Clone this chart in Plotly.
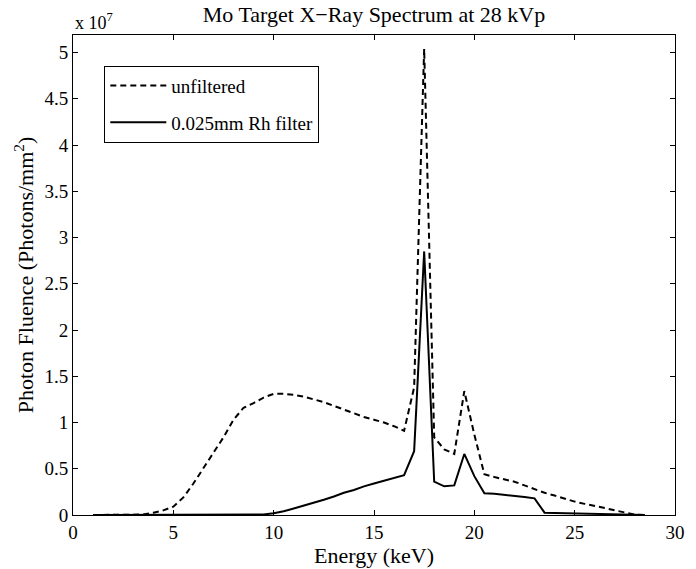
import plotly.graph_objects as go

energy_kev = [1, 1.5, 2, 2.5, 3, 3.5, 4, 4.5, 5, 5.5, 6, 6.5, 7, 7.5, 8, 8.5, 9, 9.5,
              10, 10.5, 11, 11.5, 12, 12.5, 13, 13.5, 14, 14.5, 15, 15.5, 16, 16.5,
              17, 17.5, 18, 18.5, 19, 19.5, 20, 20.5, 21, 21.5, 22, 22.5, 23, 23.5,
              24, 24.5, 25, 25.5, 26, 26.5, 27, 27.5, 28, 28.5]

# values in units of 1e7 photons/mm^2
unfiltered_e7 = [0, 0, 0, 0, 0, 0.005, 0.025, 0.05, 0.09, 0.19, 0.34, 0.51, 0.68, 0.84,
                 1.03, 1.16, 1.21, 1.27, 1.31, 1.31, 1.30, 1.28, 1.25, 1.22, 1.18, 1.14,
                 1.10, 1.06, 1.03, 1.00, 0.96, 0.91, 1.38, 5.04, 0.84, 0.71, 0.66, 1.34,
                 0.87, 0.44, 0.41, 0.385, 0.36, 0.32, 0.28, 0.24, 0.21, 0.175, 0.145,
                 0.12, 0.10, 0.075, 0.05, 0.03, 0.005, 0]
rh_filter_e7 = [0, 0, 0, 0, 0, 0, 0, 0, 0, 0, 0, 0, 0, 0, 0, 0, 0, 0.005, 0.02, 0.04,
                0.07, 0.10, 0.13, 0.165, 0.20, 0.24, 0.27, 0.31, 0.34, 0.37, 0.40, 0.43,
                0.69, 2.85, 0.36, 0.31, 0.32, 0.66, 0.42, 0.235, 0.23, 0.22, 0.21, 0.195,
                0.18, 0.025, 0.022, 0.02, 0.018, 0.015, 0.012, 0.01, 0.008, 0.005, 0.003, 0]

scale = 1e7
unfiltered = [v * scale for v in unfiltered_e7]
rh_filter = [v * scale for v in rh_filter_e7]

x_ticks = [0, 5, 10, 15, 20, 25, 30]
y_tick_e7 = [0, 0.5, 1, 1.5, 2, 2.5, 3, 3.5, 4, 4.5, 5]
y_tick_labels = ["0", "0.5", "1", "1.5", "2", "2.5", "3", "3.5", "4", "4.5", "5"]

FONT = "Liberation Serif, Times New Roman, serif"

fig = go.Figure()
fig.add_trace(go.Scatter(x=energy_kev, y=unfiltered, mode="lines", name="unfiltered",
                         legendgroup="a",
                         line=dict(color="black", width=2, dash="6px,4px")))
fig.add_trace(go.Scatter(x=energy_kev, y=rh_filter, mode="lines", name="0.025mm Rh filter",
                         legendgroup="b",
                         line=dict(color="black", width=2)))

axis_common = dict(showline=True, linecolor="black", linewidth=1, mirror="ticks",
                   ticks="inside", ticklen=5, tickcolor="black", showgrid=False,
                   zeroline=False, tickfont=dict(family=FONT, size=19, color="black"))

fig.update_xaxes(range=[0, 30], tickvals=x_ticks,
                 title=dict(text="Energy (keV)", font=dict(family=FONT, size=22, color="black"),
                            standoff=0),
                 **axis_common)
fig.update_yaxes(range=[0, 5.19e7], tickvals=[v * scale for v in y_tick_e7],
                 ticktext=y_tick_labels,
                 title=dict(text="Photon Fluence (Photons/mm<sup>2</sup>)",
                            font=dict(family=FONT, size=22, color="black"), standoff=4),
                 **axis_common)

fig.update_layout(
    width=696, height=569,
    margin=dict(l=73, r=11, t=35, b=51),
    paper_bgcolor="white", plot_bgcolor="white",
    font=dict(family=FONT, color="black"),
    title=dict(text="Mo Target X\u2212Ray Spectrum at 28 kVp", x=0.5, xref="paper",
               y=0.975, yanchor="middle", font=dict(family=FONT, size=22, color="black")),
    legend=dict(x=0.052, y=0.936, xanchor="left", yanchor="top",
                bgcolor="white", bordercolor="black", borderwidth=1,
                font=dict(family=FONT, size=19, color="black"),
                tracegroupgap=9, itemwidth=56),
    showlegend=True,
    annotations=[dict(text="x 10<sup>7</sup>", x=0, y=1.0, xref="paper", yref="paper",
                      xanchor="left", yanchor="bottom", showarrow=False,
                      font=dict(family=FONT, size=18, color="black"))],
)

fig.write_html("out.html")
